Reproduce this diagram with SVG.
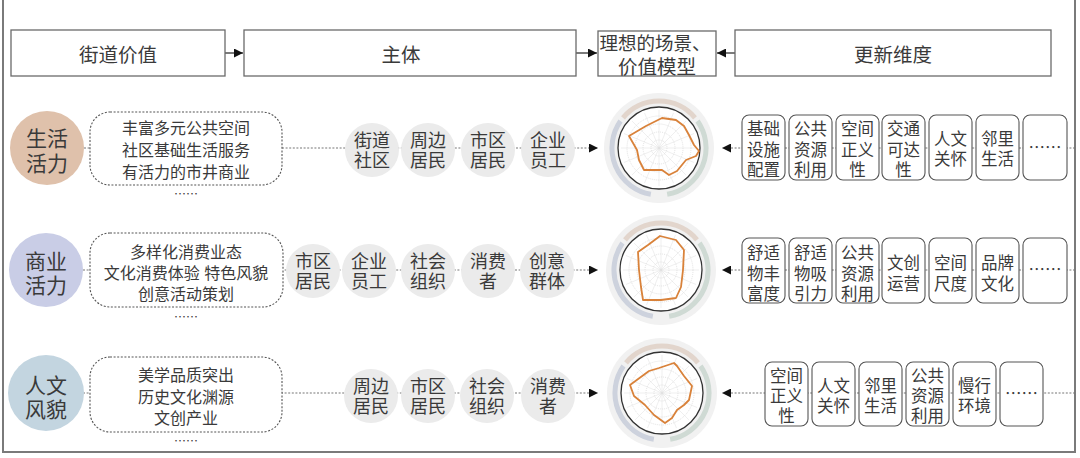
<svg xmlns="http://www.w3.org/2000/svg" xmlns:xlink="http://www.w3.org/1999/xlink" width="1080" height="458" viewBox="0 0 1080 458">
<style>
text{font-family:"Noto Sans CJK SC","Noto Sans",sans-serif;fill:#3a3a3a;text-anchor:middle;dominant-baseline:central}
text.ml{font-family:"Liberation Sans","Noto Sans CJK SC",sans-serif}
.hdr{fill:#fff;stroke:#6a6a6a;stroke-width:1.3}
.ht{font-size:19.5px}
.big{font-size:21px}
.dbox{fill:#fff;stroke:#555;stroke-width:1.1;stroke-dasharray:2 1.6}
.dt{font-size:16px}
.el{font-size:12px}
.gc{fill:#ebebeb}
.gt{font-size:18px}
.rb{fill:#fff;stroke:#555;stroke-width:1.1}
.rt{font-size:16.5px}
.con{stroke:#777;stroke-width:1.2;stroke-dasharray:2 1.6;fill:none}
.solid{stroke:#222;stroke-width:1.2;fill:none}
.poly{fill:none;stroke:#d9823a;stroke-width:1.8;stroke-linejoin:round}
</style>
<defs>
<marker id="ah" viewBox="0 0 10 10" refX="10" refY="5" markerWidth="9" markerHeight="9" markerUnits="userSpaceOnUse" orient="auto">
<path d="M0,0 L10,5 L0,10 z" fill="#111"/>
</marker>
<g id="radarBase">
<circle r="55" fill="#f1f1f1"/>
<path d="M-36,-30.2 A47,47 0 0 1 36,-30.2" stroke="#e2d5cc" stroke-width="5" fill="none"/>
<path d="M38.5,-27 A47,47 0 0 1 8.16,46.3" stroke="#cfdad4" stroke-width="5" fill="none"/>
<path d="M-8.16,46.3 A47,47 0 0 1 -38.5,-27" stroke="#cdd2dd" stroke-width="5" fill="none"/>
<circle r="41" fill="#fff" stroke="#333" stroke-width="1.3"/>
<g stroke="#cfcfcf" stroke-width="0.6" fill="none" stroke-dasharray="1 1">
<circle r="8"/><circle r="16"/><circle r="24"/><circle r="32"/>
</g>
<g stroke="#dedede" stroke-width="0.5">
<line x1="0" y1="-38" x2="0" y2="38"/><line x1="-38" y1="0" x2="38" y2="0"/>
<line x1="-26.9" y1="-26.9" x2="26.9" y2="26.9"/><line x1="-26.9" y1="26.9" x2="26.9" y2="-26.9"/>
<line x1="-14.5" y1="-35.1" x2="14.5" y2="35.1"/><line x1="14.5" y1="-35.1" x2="-14.5" y2="35.1"/>
<line x1="-35.1" y1="-14.5" x2="35.1" y2="14.5"/><line x1="35.1" y1="-14.5" x2="-35.1" y2="14.5"/>
</g>
</g>
</defs>
<rect x="0" y="0" width="1080" height="458" fill="#fff"/>
<path d="M3,0 V452 H1075 V0" fill="none" stroke="#7a7a7a" stroke-width="2"/>

<g id="connectors">
<line class="solid" x1="225" y1="53" x2="243" y2="53" marker-end="url(#ah)"/>
<line class="solid" x1="576" y1="53" x2="597" y2="53" marker-end="url(#ah)"/>
<line class="solid" x1="735" y1="53" x2="717" y2="53" marker-end="url(#ah)"/>
<line class="con" x1="84" y1="148" x2="598" y2="148" marker-end="url(#ah)"/>
<line class="con" x1="1075" y1="148" x2="722" y2="148" marker-end="url(#ah)"/>
<line class="con" x1="83" y1="270" x2="598" y2="270" marker-end="url(#ah)"/>
<line class="con" x1="1075" y1="270" x2="722" y2="270" marker-end="url(#ah)"/>
<line class="con" x1="83" y1="393" x2="598" y2="393" marker-end="url(#ah)"/>
<line class="con" x1="1075" y1="393" x2="722" y2="393" marker-end="url(#ah)"/>
</g>

<g id="h1"><rect class="hdr" x="11" y="30" width="214" height="46"/><text class="ht" x="118" y="53">街道价值</text></g>
<g id="h2"><rect class="hdr" x="244" y="30" width="332" height="46"/><text class="ht" x="401" y="53">主体</text></g>
<g id="h3"><rect class="hdr" x="598" y="31" width="118" height="45"/><text class="ht ml" x="656" y="43"><tspan x="655" style="font-size:18.5px">理想的场景、</tspan><tspan x="657" dy="24">价值模型</tspan></text></g>
<g id="h4"><rect class="hdr" x="735" y="30" width="316" height="46"/><text class="ht" x="893" y="53">更新维度</text></g>

<!-- Row 1 -->
<g id="v1"><circle cx="47" cy="148" r="37" fill="#dfc1ab"/><text class="big ml" x="47" y="137.5"><tspan x="47">生活</tspan><tspan x="47" dy="25">活力</tspan></text></g>
<g id="d1"><rect class="dbox" x="90" y="112" width="192" height="73" rx="20"/>
<text class="dt ml" x="186" y="128"><tspan x="186">丰富多元公共空间</tspan><tspan x="186" dy="22">社区基础生活服务</tspan><tspan x="186" dy="22">有活力的市井商业</tspan></text>
<text class="el" x="186" y="193">……</text></g>
<g id="s1a"><circle class="gc" cx="372" cy="150" r="27"/><text class="gt ml" x="372" y="140.5"><tspan x="372">街道</tspan><tspan x="372" dy="20.2">社区</tspan></text></g>
<g id="s1b"><circle class="gc" cx="428" cy="150" r="27"/><text class="gt ml" x="428" y="140.5"><tspan x="428">周边</tspan><tspan x="428" dy="20.2">居民</tspan></text></g>
<g id="s1c"><circle class="gc" cx="488" cy="150" r="27"/><text class="gt ml" x="488" y="140.5"><tspan x="488">市区</tspan><tspan x="488" dy="20.2">居民</tspan></text></g>
<g id="s1d"><circle class="gc" cx="548" cy="150" r="27"/><text class="gt ml" x="548" y="140.5"><tspan x="548">企业</tspan><tspan x="548" dy="20.2">员工</tspan></text></g>
<g id="radar1" transform="translate(659,148)"><use xlink:href="#radarBase"/>
<polygon class="poly" points="-30,-12 -13,-22 3,-30 17,-28 25,-22 30,-13 35,-3 40,3 37,8 27,12 18,23 10,27 3,22 -7,22 -15,22 -20,12 -22,2"/></g>
<g id="r1a"><rect class="rb" x="742" y="115" width="43" height="65" rx="7"/><text class="rt ml" x="763.5" y="129"><tspan x="763.5">基础</tspan><tspan x="763.5" dy="20.5">设施</tspan><tspan x="763.5" dy="20.5">配置</tspan></text></g>
<g id="r1b"><rect class="rb" x="789" y="115" width="43" height="65" rx="7"/><text class="rt ml" x="810.5" y="129"><tspan x="810.5">公共</tspan><tspan x="810.5" dy="20.5">资源</tspan><tspan x="810.5" dy="20.5">利用</tspan></text></g>
<g id="r1c"><rect class="rb" x="836" y="115" width="43" height="65" rx="7"/><text class="rt ml" x="857.5" y="129"><tspan x="857.5">空间</tspan><tspan x="857.5" dy="20.5">正义</tspan><tspan x="857.5" dy="20.5">性</tspan></text></g>
<g id="r1d"><rect class="rb" x="882" y="115" width="43" height="65" rx="7"/><text class="rt ml" x="903.5" y="129"><tspan x="903.5">交通</tspan><tspan x="903.5" dy="20.5">可达</tspan><tspan x="903.5" dy="20.5">性</tspan></text></g>
<g id="r1e"><rect class="rb" x="929" y="115" width="43" height="65" rx="7"/><text class="rt ml" x="950.5" y="139"><tspan x="950.5">人文</tspan><tspan x="950.5" dy="20">关怀</tspan></text></g>
<g id="r1f"><rect class="rb" x="976" y="115" width="43" height="65" rx="7"/><text class="rt ml" x="997.5" y="139"><tspan x="997.5">邻里</tspan><tspan x="997.5" dy="20">生活</tspan></text></g>
<g id="r1g"><rect class="rb" x="1023" y="115" width="44" height="65" rx="7"/><text class="rt" x="1045" y="147">……</text></g>

<!-- Row 2 -->
<g id="v2"><circle cx="46" cy="270" r="37" fill="#c9cde6"/><text class="big ml" x="46" y="260.5"><tspan x="46">商业</tspan><tspan x="46" dy="24">活力</tspan></text></g>
<g id="d2"><rect class="dbox" x="90" y="233" width="193" height="74" rx="20"/>
<text class="dt ml" x="186" y="252"><tspan x="186">多样化消费业态</tspan><tspan x="186" dy="21">文化消费体验 特色风貌</tspan><tspan x="186" dy="21">创意活动策划</tspan></text>
<text class="el" x="186" y="316">……</text></g>
<g id="s2a"><circle class="gc" cx="313" cy="271" r="27"/><text class="gt ml" x="313" y="262"><tspan x="313">市区</tspan><tspan x="313" dy="20.2">居民</tspan></text></g>
<g id="s2b"><circle class="gc" cx="369" cy="271" r="27"/><text class="gt ml" x="369" y="262"><tspan x="369">企业</tspan><tspan x="369" dy="20.2">员工</tspan></text></g>
<g id="s2c"><circle class="gc" cx="428" cy="271" r="27"/><text class="gt ml" x="428" y="262"><tspan x="428">社会</tspan><tspan x="428" dy="20.2">组织</tspan></text></g>
<g id="s2d"><circle class="gc" cx="488" cy="271" r="27"/><text class="gt ml" x="488" y="262"><tspan x="488">消费</tspan><tspan x="488" dy="20.2">者</tspan></text></g>
<g id="s2e"><circle class="gc" cx="547" cy="271" r="27"/><text class="gt ml" x="547" y="262"><tspan x="547">创意</tspan><tspan x="547" dy="20.2">群体</tspan></text></g>
<g id="radar2" transform="translate(661,270)"><use xlink:href="#radarBase"/>
<polygon class="poly" points="-1,-34 15,-30 23,-20 22,0 20,17 15,28 0,30 -18,30 -20,17 -22,0 -23,-18 -13,-25"/></g>
<g id="r2a"><rect class="rb" x="742" y="238" width="43" height="65" rx="7"/><text class="rt ml" x="763.5" y="253"><tspan x="763.5">舒适</tspan><tspan x="763.5" dy="20.5">物丰</tspan><tspan x="763.5" dy="20.5">富度</tspan></text></g>
<g id="r2b"><rect class="rb" x="789" y="238" width="43" height="65" rx="7"/><text class="rt ml" x="810.5" y="253"><tspan x="810.5">舒适</tspan><tspan x="810.5" dy="20.5">物吸</tspan><tspan x="810.5" dy="20.5">引力</tspan></text></g>
<g id="r2c"><rect class="rb" x="836" y="238" width="43" height="65" rx="7"/><text class="rt ml" x="857.5" y="253"><tspan x="857.5">公共</tspan><tspan x="857.5" dy="20.5">资源</tspan><tspan x="857.5" dy="20.5">利用</tspan></text></g>
<g id="r2d"><rect class="rb" x="882" y="238" width="43" height="65" rx="7"/><text class="rt ml" x="903.5" y="263"><tspan x="903.5">文创</tspan><tspan x="903.5" dy="21">运营</tspan></text></g>
<g id="r2e"><rect class="rb" x="929" y="238" width="43" height="65" rx="7"/><text class="rt ml" x="950.5" y="263"><tspan x="950.5">空间</tspan><tspan x="950.5" dy="21">尺度</tspan></text></g>
<g id="r2f"><rect class="rb" x="976" y="238" width="43" height="65" rx="7"/><text class="rt ml" x="997.5" y="263"><tspan x="997.5">品牌</tspan><tspan x="997.5" dy="21">文化</tspan></text></g>
<g id="r2g"><rect class="rb" x="1023" y="238" width="44" height="65" rx="7"/><text class="rt" x="1045" y="269">……</text></g>

<!-- Row 3 -->
<g id="v3"><circle cx="46" cy="393" r="38" fill="#c3d5e0"/><text class="big ml" x="46" y="384.5"><tspan x="46">人文</tspan><tspan x="46" dy="24">风貌</tspan></text></g>
<g id="d3"><rect class="dbox" x="90" y="357" width="192" height="75" rx="20"/>
<text class="dt ml" x="186" y="375"><tspan x="186">美学品质突出</tspan><tspan x="186" dy="21.5">历史文化渊源</tspan><tspan x="186" dy="21.5">文创产业</tspan></text>
<text class="el" x="186" y="440">……</text></g>
<g id="s3a"><circle class="gc" cx="371" cy="396" r="27"/><text class="gt ml" x="371" y="387"><tspan x="371">周边</tspan><tspan x="371" dy="20.2">居民</tspan></text></g>
<g id="s3b"><circle class="gc" cx="428" cy="396" r="27"/><text class="gt ml" x="428" y="387"><tspan x="428">市区</tspan><tspan x="428" dy="20.2">居民</tspan></text></g>
<g id="s3c"><circle class="gc" cx="487" cy="396" r="27"/><text class="gt ml" x="487" y="387"><tspan x="487">社会</tspan><tspan x="487" dy="20.2">组织</tspan></text></g>
<g id="s3d"><circle class="gc" cx="548" cy="396" r="27"/><text class="gt ml" x="548" y="387"><tspan x="548">消费</tspan><tspan x="548" dy="20.2">者</tspan></text></g>
<g id="radar3" transform="translate(662,393)"><use xlink:href="#radarBase"/>
<polygon class="poly" points="12,-30 -3,-25 -13,-22 -32,-8 -28,3 -17,12 -8,22 3,30 10,25 15,17 22,12 27,7 30,-7 22,-17 15,-27"/></g>
<g id="r3a"><rect class="rb" x="765" y="362" width="43" height="64" rx="7"/><text class="rt ml" x="786.5" y="376"><tspan x="786.5">空间</tspan><tspan x="786.5" dy="20">正义</tspan><tspan x="786.5" dy="20">性</tspan></text></g>
<g id="r3b"><rect class="rb" x="812" y="362" width="43" height="64" rx="7"/><text class="rt ml" x="833.5" y="386"><tspan x="833.5">人文</tspan><tspan x="833.5" dy="20">关怀</tspan></text></g>
<g id="r3c"><rect class="rb" x="859" y="362" width="43" height="64" rx="7"/><text class="rt ml" x="880.5" y="386"><tspan x="880.5">邻里</tspan><tspan x="880.5" dy="20">生活</tspan></text></g>
<g id="r3d"><rect class="rb" x="906" y="362" width="43" height="64" rx="7"/><text class="rt ml" x="927.5" y="376"><tspan x="927.5">公共</tspan><tspan x="927.5" dy="20">资源</tspan><tspan x="927.5" dy="20">利用</tspan></text></g>
<g id="r3e"><rect class="rb" x="953" y="362" width="43" height="64" rx="7"/><text class="rt ml" x="974.5" y="386"><tspan x="974.5">慢行</tspan><tspan x="974.5" dy="20">环境</tspan></text></g>
<g id="r3f"><rect class="rb" x="1000" y="362" width="43" height="64" rx="7"/><text class="rt" x="1021.5" y="393">……</text></g>
</svg>
